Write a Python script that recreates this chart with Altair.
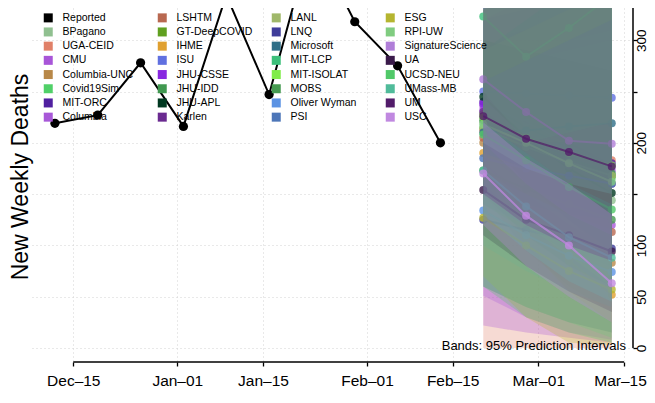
import altair as alt
import pandas as pd

# ---------------- data ----------------
report_dates = ["2020-12-12", "2020-12-19", "2020-12-26", "2021-01-02", "2021-01-09",
                "2021-01-16", "2021-01-23", "2021-01-30", "2021-02-06", "2021-02-13"]
report_deaths = [219, 227, 278, 216, 344, 247, 400, 318, 275, 200]

forecast_dates = ["2021-02-20", "2021-02-27", "2021-03-06", "2021-03-13"]

models = ["BPagano", "UGA-CEID", "CMU", "Columbia-UNC", "Covid19Sim", "MIT-ORC", "Columbia",
          "LSHTM", "GT-DeepCOVID", "IHME", "ISU", "JHU-CSSE", "JHU-IDD", "JHU-APL", "Karlen",
          "LANL", "LNQ", "Microsoft", "MIT-LCP", "MIT-ISOLAT", "MOBS", "Oliver Wyman", "PSI",
          "ESG", "RPI-UW", "SignatureScience", "UA", "UCSD-NEU", "UMass-MB", "UM", "USC"]

model_colors = ["#90c090", "#e08068", "#a855d8", "#b88848", "#50d068", "#5020a0", "#a858d8",
                "#b86850", "#60a020", "#e0a030", "#6070e0", "#8828e0", "#409850", "#003820", "#6a2a90",
                "#a0b86a", "#3f3d9a", "#2e6e87", "#3cbf7a", "#80ec48", "#459a50", "#5c93e3", "#4d76b8",
                "#b5b530", "#80cc80", "#b07ed8", "#3a1a4a", "#50c868", "#50bb9a", "#521c6a", "#c088e0"]

median = [
    [220, 196, 170, 144], [212, 200, 191, 183], [236, 210, 190, 173], [200, 150, 115, 83],
    [215, 195, 180, 166], [240, 215, 195, 180], [232, 185, 150, 120], [205, 170, 140, 113],
    [228, 205, 185, 168], [190, 130, 85, 52], [250, 248, 246, 244], [238, 220, 200, 178],
    [222, 200, 185, 170], [245, 205, 175, 151], [230, 200, 178, 160], [214, 196, 181, 168],
    [125, 115, 105, 97], [210, 212, 216, 219], [323, 284, 312, 344], [225, 205, 190, 178],
    [173, 155, 140, 125], [134, 110, 90, 74], [185, 175, 168, 160], [127, 100, 75, 57],
    [218, 200, 180, 162], [262, 230, 202, 199], [154, 125, 110, 94], [208, 183, 157, 135],
    [173, 138, 108, 88], [226, 204, 191, 177], [170, 129, 100, 63]]

lower = [
    [170, 130, 95, 65], [0, 0, 0, 0], [22, 15, 10, 5], [150, 95, 60, 35],
    [180, 150, 130, 110], [190, 150, 120, 95], [51, 30, 15, 8], [150, 110, 80, 55],
    [190, 160, 135, 115], [160, 100, 55, 25], [200, 190, 180, 170], [190, 160, 130, 100],
    [150, 110, 80, 60], [210, 160, 125, 95], [180, 140, 110, 85], [180, 150, 120, 95],
    [60, 40, 25, 15], [150, 140, 130, 125], [250, 200, 210, 220], [160, 120, 90, 60],
    [140, 115, 95, 80], [100, 75, 55, 40], [140, 120, 100, 85], [70, 30, 5, 3],
    [60, 40, 25, 10], [200, 160, 130, 110], [110, 80, 55, 35], [60, 30, 15, 5],
    [130, 95, 65, 45], [150, 120, 100, 85], [120, 80, 50, 25]]

upper = [
    [300, 310, 320, 330], [330, 360, 380, 400], [360, 380, 400, 420], [250, 215, 180, 150],
    [270, 280, 290, 300], [320, 330, 340, 350], [350, 340, 330, 320], [300, 300, 300, 300],
    [280, 290, 300, 310], [220, 170, 125, 90], [350, 380, 400, 420], [320, 340, 360, 380],
    [330, 340, 350, 360], [300, 290, 280, 270], [330, 340, 350, 360], [290, 310, 330, 350],
    [200, 200, 200, 200], [290, 320, 350, 380], [400, 380, 420, 460], [330, 350, 370, 390],
    [210, 200, 190, 180], [170, 150, 130, 115], [260, 280, 300, 320], [190, 175, 160, 150],
    [360, 370, 380, 390], [340, 340, 340, 340], [200, 175, 160, 150], [360, 380, 390, 400],
    [220, 190, 160, 140], [350, 360, 370, 380], [220, 185, 160, 130]]

x_tick_dates = ["2020-12-15", "2021-01-01", "2021-01-15", "2021-02-01",
                "2021-02-15", "2021-03-01", "2021-03-15"]
y_ticks = [0, 50, 100, 150, 200, 250, 300]

y_title = "New Weekly Deaths"
band_note = "Bands: 95% Prediction Intervals"

# ---------------- helpers ----------------
FONT = "Liberation Sans"


def dt(s, h=0, mi=0):
    y, m, d = map(int, s.split("-"))
    return alt.DateTime(year=y, month=m, date=d, hours=h, minutes=mi, utc=True)


W, H = 602, 354
xscale = alt.Scale(type="utc", domain=[dt("2020-12-08", 2, 10), dt("2021-03-16", 11, 18)])
yscale = alt.Scale(domain=[-13.65, 331.4], nice=False, zero=False)

report_df = pd.DataFrame({"date": report_dates, "deaths": report_deaths})

rows = []
for m, med, lo, hi in zip(models, median, lower, upper):
    for d, a, b, c in zip(forecast_dates, med, lo, hi):
        rows.append({"model": m, "date": d, "med": a, "lo": b, "hi": c})
fc_df = pd.DataFrame(rows)

# nudge only the last date label (Mar-15) a little left so it stays on the page
last_label_shift = {"condition": {"test": "datum.value > 1615000000000", "value": -4}, "value": 0}

x_axis = alt.Axis(values=[dt(s) for s in x_tick_dates], format="%b\u2013%d",
                  labelFontSize=15.5, labelFont=FONT, labelColor="black",
                  tickColor="black", tickSize=4, tickWidth=1.3, domain=False,
                  grid=True, gridColor="#d3d3d3", gridDash=[1, 3], gridWidth=1,
                  labelPadding=7, labelOffset=last_label_shift,
                  title=None, labelFlush=False, labelOverlap=False)
y_axis = alt.Axis(orient="right", values=y_ticks,
                  labelExpr="datum.value == 150 || datum.value == 250 ? '' : datum.label",
                  labelAngle=270, labelAlign="center", labelBaseline="top",
                  labelFontSize=13.5, labelFont=FONT, labelColor="black",
                  tickColor="black", tickSize=4, tickWidth=1.3, domain=False,
                  grid=True, gridColor="#d3d3d3", gridDash=[1, 3], gridWidth=1,
                  labelPadding=-3, title=None, labelFlush=False, labelOverlap=False)


def X(field):
    return alt.X(field, scale=xscale, axis=x_axis)


def Y(field):
    return alt.Y(field, scale=yscale, axis=y_axis)


layers = []

# reported series
layers.append(alt.Chart(report_df).mark_line(color="black", strokeWidth=2, clip=True).encode(
    x=X("date:T"), y=Y("deaths:Q")))
layers.append(alt.Chart(report_df).mark_point(filled=True, color="black", size=85, opacity=1,
                                              clip=True).encode(
    x=X("date:T"), y=Y("deaths:Q")))

# forecasts, one model at a time (band, then line, then points)
for m, col in zip(models, model_colors):
    base = alt.Chart(fc_df).transform_filter(alt.datum.model == m)
    layers.append(base.mark_area(opacity=0.29, clip=True).encode(
        x=X("date:T"), y=Y("lo:Q"), y2="hi:Q", color=alt.value(col)))
    layers.append(base.mark_line(strokeWidth=2, opacity=0.75, clip=True).encode(
        x=X("date:T"), y=Y("med:Q"), color=alt.value(col)))
    layers.append(base.mark_point(filled=True, size=64, opacity=0.8, clip=True).encode(
        x=X("date:T"), y=Y("med:Q"), color=alt.value(col)))

# axis lines in R style
axis_df = pd.DataFrame({"k": [0]})
layers.append(alt.Chart(axis_df).mark_rule(color="black", strokeWidth=1.5).encode(
    x=alt.X(datum=dt("2020-12-15"), scale=xscale, axis=x_axis),
    x2=alt.datum(dt("2021-03-15")),
    y=alt.value(H)))
layers.append(alt.Chart(axis_df).mark_rule(color="black", strokeWidth=1.5).encode(
    x=alt.value(W),
    y=alt.Y(datum=0, scale=yscale, axis=y_axis),
    y2=alt.value(0)))

# texts
layers.append(alt.Chart(pd.DataFrame({"t": [y_title]})).mark_text(
    angle=270, fontSize=23, font=FONT, align="center", baseline="middle", color="black").encode(
    text="t:N", x=alt.value(-10), y=alt.value(169)))
layers.append(alt.Chart(pd.DataFrame({"t": [band_note]})).mark_text(
    align="right", baseline="middle", fontSize=13, font=FONT, color="black").encode(
    text="t:N", x=alt.value(W - 7), y=alt.value(337.5)))

# legend (4 columns, filled column by column)
leg_names = ["Reported"] + models
leg_colors = ["#000000"] + model_colors
layers.append(alt.Chart(pd.DataFrame({"name": leg_names})).mark_square(size=81, opacity=1).encode(
    x=alt.value(-300), y=alt.value(-300),
    color=alt.Color("name:N", scale=alt.Scale(domain=leg_names, range=leg_colors),
                    legend=alt.Legend(orient="none", legendX=12, legendY=4.5, columns=4,
                                      symbolLimit=50,
                                      symbolType="square", symbolSize=81, symbolStrokeWidth=0,
                                      symbolOpacity=1, labelFontSize=10.5, labelFont=FONT,
                                      labelColor="black", labelOffset=9, columnPadding=12,
                                      rowPadding=3.2, gridAlign="all", title=None, padding=0))))

chart = alt.layer(*layers).properties(
    width=W, height=H,
    autosize=alt.AutoSizeParams(type="none"),
    padding={"left": 23, "top": 0, "right": 14, "bottom": 41},
    background="white",
).configure_view(stroke=None)

chart.save("out.html", embed_options={"renderer": "svg", "actions": False})
